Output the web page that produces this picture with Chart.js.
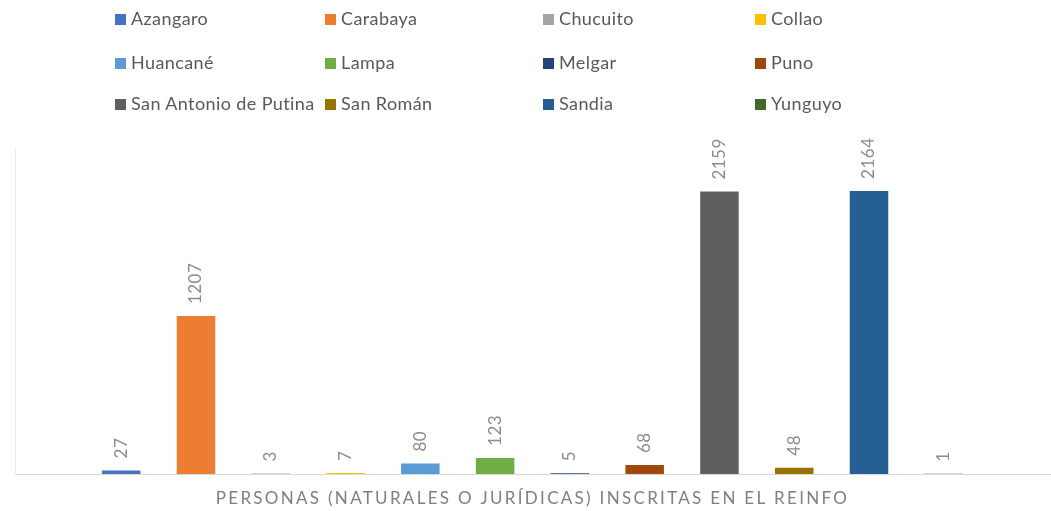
<!DOCTYPE html>
<html>
<head>
<meta charset="utf-8">
<script src="https://cdn.jsdelivr.net/npm/chart.js@4.4.1/dist/chart.umd.min.js"></script>
<style>
  html, body { margin: 0; padding: 0; background: #fff; }
  #wrap { position: relative; width: 1051px; height: 511px; }
  #chart { position: absolute; left: 0; top: 0; }
  .lg { position: absolute; font-family: Lato, sans-serif; font-size: 18px; letter-spacing: 0.4px; color: #595959; white-space: nowrap; line-height: 18px; }
  .lg i { display: inline-block; width: 11px; height: 11px; margin-right: 5px; vertical-align: 0px; }
</style>
</head>
<body>
<div id="wrap">
  <canvas id="chart" width="1051" height="511"></canvas>
  <div id="legend"></div>
</div>
<script>
const provinces = ["Azangaro", "Carabaya", "Chucuito", "Collao", "Huancané", "Lampa", "Melgar", "Puno", "San Antonio de Putina", "San Román", "Sandia", "Yunguyo"];
const registered = [27, 1207, 3, 7, 80, 123, 5, 68, 2159, 48, 2164, 1];
const barColors = ["#4472C4", "#ED7D31", "#A5A5A5", "#FFC000", "#5B9BD5", "#70AD47", "#264478", "#9E480E", "#5F5F5F", "#997300", "#255E91", "#43682B"];
const axisTitle = "PERSONAS (NATURALES O JURÍDICAS) INSCRITAS EN EL REINFO";

// HTML legend in a 4-column grid
const legendCols = [115, 325, 543, 755];
const legendRows = [9, 53, 94];
const legendEl = document.getElementById('legend');
provinces.forEach((p, i) => {
  const d = document.createElement('div');
  d.className = 'lg';
  d.style.left = legendCols[i % 4] + 'px';
  d.style.top = legendRows[Math.floor(i / 4)] + 'px';
  d.innerHTML = '<i style="background:' + barColors[i] + '"></i>' + p;
  legendEl.appendChild(d);
});

const valueLabels = {
  id: 'valueLabels',
  afterDatasetsDraw(chart) {
    const ctx = chart.ctx;
    ctx.save();
    ctx.font = '17px Lato, sans-serif';
    ctx.letterSpacing = '0.5px';
    ctx.fillStyle = '#8c8c8c';
    ctx.textAlign = 'left';
    ctx.textBaseline = 'middle';
    chart.data.datasets.forEach((ds, i) => {
      const meta = chart.getDatasetMeta(i);
      const el = meta.data[0];
      ctx.save();
      ctx.translate(el.x, el.y - 12);
      ctx.rotate(-Math.PI / 2);
      ctx.fillText(String(ds.data[0]), 0, 0);
      ctx.restore();
    });
    ctx.restore();
  }
};

const spacedTitle = {
  id: 'spacedTitle',
  afterDraw(chart) {
    const ctx = chart.ctx;
    const area = chart.chartArea;
    ctx.save();
    ctx.font = '17px Lato, sans-serif';
    ctx.fillStyle = '#7f7f7f';
    ctx.letterSpacing = '2.3px';
    ctx.textAlign = 'center';
    ctx.textBaseline = 'middle';
    ctx.fillText(axisTitle, (area.left + area.right) / 2, 499);
    ctx.restore();
  }
};

new Chart(document.getElementById('chart'), {
  type: 'bar',
  data: {
    labels: [''],
    datasets: provinces.map((p, i) => ({
      label: p,
      data: [registered[i]],
      backgroundColor: barColors[i],
      categoryPercentage: 0.867,
      barPercentage: 0.515
    }))
  },
  plugins: [valueLabels, spacedTitle],
  options: {
    responsive: false,
    animation: false,
    layout: { padding: { left: 7, right: 1, top: 147, bottom: 29 } },
    plugins: { legend: { display: false }, tooltip: { enabled: false } },
    scales: {
      x: {
        display: true,
        ticks: { display: false },
        grid: { display: false },
        border: { display: true, color: '#d9d9d9', width: 1 }
      },
      y: {
        display: true,
        min: 0, max: 2500,
        ticks: { display: false },
        grid: { display: false },
        border: { display: true, color: '#ececec', width: 1 }
      }
    }
  }
});
</script>
</body>
</html>
